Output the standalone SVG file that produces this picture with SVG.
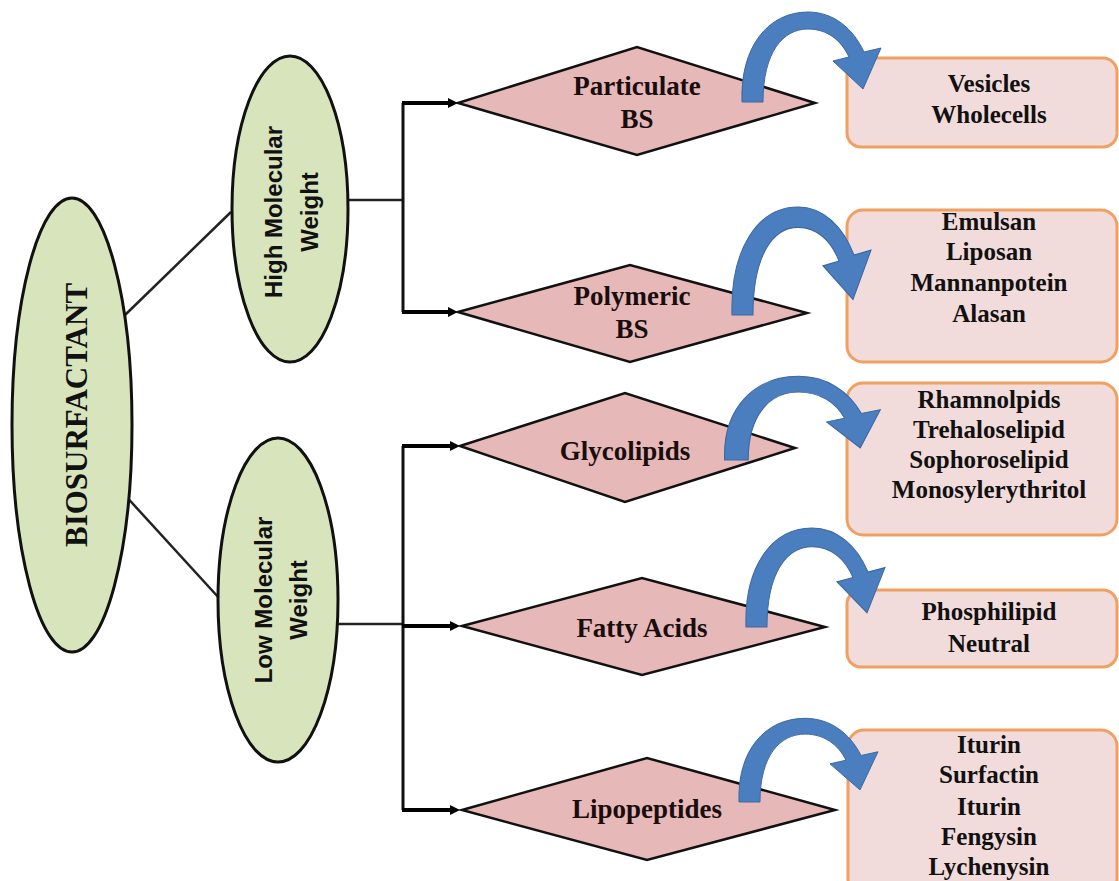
<svg xmlns="http://www.w3.org/2000/svg" xmlns:xlink="http://www.w3.org/1999/xlink" width="1119" height="881" viewBox="0 0 1119 881">
<style>
.ell{fill:#d8e4bc;stroke:#111;stroke-width:3}
.dia{fill:#e6b9b8;stroke:#111;stroke-width:2.5}
.box{fill:#f2dcdb;stroke:#f0a060;stroke-width:3}
.lbl{font-family:"Liberation Sans",Arial,sans-serif;font-weight:bold;font-size:24px;fill:#111;text-anchor:middle}
.big{font-family:"Liberation Serif","Times New Roman",serif;font-weight:bold;font-size:31px;fill:#111;text-anchor:middle}
.dt{font-family:"Liberation Serif","Times New Roman",serif;font-weight:bold;font-size:27px;fill:#1a0d0d;text-anchor:middle}
.bt{font-family:"Liberation Serif","Times New Roman",serif;font-weight:bold;font-size:25px;fill:#111;text-anchor:middle}
.ln{stroke:#111;fill:none;stroke-width:3}
.thin{stroke:#222;fill:none;stroke-width:2.5}
.arr{stroke:#000;stroke-width:4;fill:none;marker-end:url(#ah)}
.curl{fill:#4a7ebf;stroke:#3a68a4;stroke-width:1}
</style>
<defs>
<marker id="ah" markerUnits="userSpaceOnUse" markerWidth="10" markerHeight="10" refX="2" refY="5" orient="auto">
<path d="M0,0 L10,5 L0,10 z" fill="#000"/>
</marker>
<path id="curlshape" d="M -11,0 C -13,-55 15,-90 55,-90 C 80,-90 100,-74 111,-50 L 128,-54 L 110,-13 L 80,-41 L 96,-45 C 88,-62 74,-73 55,-73 C 30,-73 10,-50 10,0 Z"/>
</defs>
<rect width="1119" height="881" fill="#fff"/>

<g id="connectors">
<line class="thin" x1="124" y1="316" x2="231" y2="212"/>
<line class="thin" x1="123" y1="493" x2="219" y2="598"/>
<line class="thin" x1="348" y1="200" x2="403" y2="200"/>
<polyline class="ln" points="403,103 403,312"/>
<line class="arr" x1="402" y1="103" x2="450" y2="103"/>
<line class="arr" x1="402" y1="312" x2="450" y2="312"/>
<line class="thin" x1="338" y1="624" x2="403" y2="624"/>
<polyline class="ln" points="403,446 403,810"/>
<line class="arr" x1="402" y1="446" x2="452" y2="446"/>
<line class="arr" x1="402" y1="626" x2="452" y2="626"/>
<line class="arr" x1="402" y1="810" x2="452" y2="810"/>
</g>

<g id="biosurfactant">
<ellipse class="ell" cx="72" cy="425" rx="60" ry="227"/>
<text class="big" transform="translate(87,415) rotate(-90)">BIOSURFACTANT</text>
</g>

<g id="high-mw">
<ellipse class="ell" cx="290" cy="209" rx="58" ry="153"/>
<text class="lbl" transform="translate(282,212) rotate(-90)">High Molecular</text>
<text class="lbl" transform="translate(318,212) rotate(-90)">Weight</text>
</g>

<g id="low-mw">
<ellipse class="ell" cx="278" cy="600" rx="60" ry="162"/>
<text class="lbl" transform="translate(272,600) rotate(-90)">Low Molecular</text>
<text class="lbl" transform="translate(307,600) rotate(-90)">Weight</text>
</g>

<g id="particulate">
<polygon class="dia" points="458,103 637,47 815,103 637,155"/>
<text class="dt" x="637" y="95">Particulate</text>
<text class="dt" x="637" y="128">BS</text>
</g>

<g id="polymeric">
<polygon class="dia" points="458,312 630,265 807,313 630,362"/>
<text class="dt" x="632" y="305">Polymeric</text>
<text class="dt" x="632" y="338">BS</text>
</g>

<g id="glycolipids">
<polygon class="dia" points="460,446 625,393 795,448 625,502"/>
<text class="dt" x="625" y="460">Glycolipids</text>
</g>

<g id="fatty-acids">
<polygon class="dia" points="462,626 642,578 825,627 642,675"/>
<text class="dt" x="642" y="637">Fatty Acids</text>
</g>

<g id="lipopeptides">
<polygon class="dia" points="462,810 647,758 835,810 647,860"/>
<text class="dt" x="647" y="818">Lipopeptides</text>
</g>

<g id="box-particulate">
<rect class="box" x="847" y="58" width="270" height="89" rx="14"/>
<text class="bt" x="989" y="92">Vesicles</text>
<text class="bt" x="989" y="123">Wholecells</text>
</g>

<g id="box-polymeric">
<rect class="box" x="847" y="210" width="270" height="152" rx="16"/>
<text class="bt" x="989" y="230">Emulsan</text>
<text class="bt" x="989" y="260">Liposan</text>
<text class="bt" x="989" y="291">Mannanpotein</text>
<text class="bt" x="989" y="322">Alasan</text>
</g>

<g id="box-glycolipids">
<rect class="box" x="847" y="383" width="270" height="152" rx="16"/>
<text class="bt" x="989" y="408">Rhamnolpids</text>
<text class="bt" x="989" y="438">Trehaloselipid</text>
<text class="bt" x="989" y="468">Sophoroselipid</text>
<text class="bt" x="989" y="498">Monosylerythritol</text>
</g>

<g id="box-fatty-acids">
<rect class="box" x="847" y="590" width="270" height="77" rx="14"/>
<text class="bt" x="989" y="620">Phosphilipid</text>
<text class="bt" x="989" y="652">Neutral</text>
</g>

<g id="box-lipopeptides">
<rect class="box" x="848" y="730" width="269" height="165" rx="16"/>
<text class="bt" x="989" y="753">Iturin</text>
<text class="bt" x="989" y="783">Surfactin</text>
<text class="bt" x="989" y="815">Iturin</text>
<text class="bt" x="989" y="845">Fengysin</text>
<text class="bt" x="989" y="875">Lychenysin</text>
</g>

<g id="curved-arrows">
<use xlink:href="#curlshape" class="curl" transform="translate(753,102)"/>
<use xlink:href="#curlshape" class="curl" transform="translate(743,315) scale(1,1.2)"/>
<use xlink:href="#curlshape" class="curl" transform="translate(737,460) scale(1.12,0.93)"/>
<use xlink:href="#curlshape" class="curl" transform="translate(757,627) scale(1,1.1)"/>
<use xlink:href="#curlshape" class="curl" transform="translate(750,802) scale(1,0.93)"/>
</g>
</svg>
